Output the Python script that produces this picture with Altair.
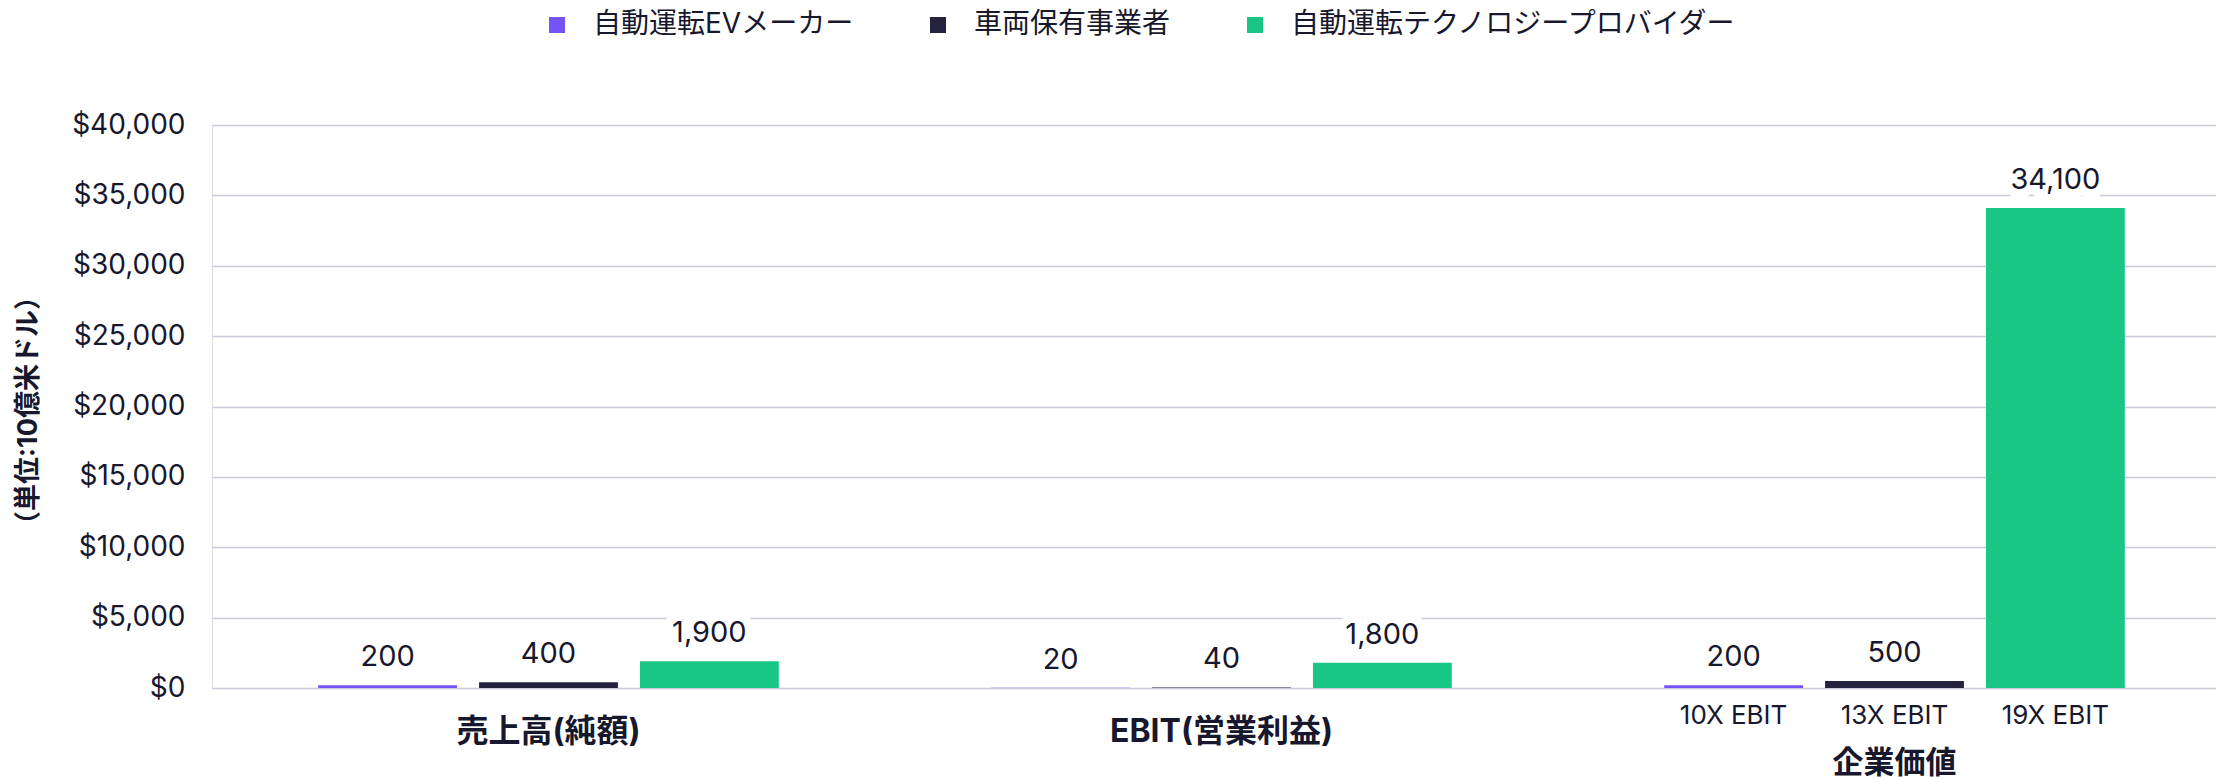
import altair as alt
import pandas as pd

# ---- data ----
categories = ["売上高(純額)", "EBIT(営業利益)", "企業価値"]
series = ["自動運転EVメーカー", "車両保有事業者", "自動運転テクノロジープロバイダー"]
revenue = [200, 400, 1900]
ebit = [20, 40, 1800]
enterprise_value = [200, 500, 34100]
multiples = ["10X EBIT", "13X EBIT", "19X EBIT"]
y_ticks = [0, 5000, 10000, 15000, 20000, 25000, 30000, 35000, 40000]
y_title = "（単位:10億米ドル）"

colors = ["#7454F7", "#23223F", "#19C784"]
TEXT = "#17172D"
FONT = "Inter, 'Noto Sans CJK JP', sans-serif"

rows = []
for cat, vals in zip(categories, [revenue, ebit, enterprise_value]):
    for i, (s, v) in enumerate(zip(series, vals)):
        rows.append({"指標": cat, "事業者": s, "値": v,
                     "倍率": multiples[i] if cat == "企業価値" else ""})
df = pd.DataFrame(rows)
cat_df = pd.DataFrame({"指標": categories})

W, H = 2004, 563

xenc = alt.X("指標:N", sort=categories,
             scale=alt.Scale(range=[0, 2019], paddingInner=0, paddingOuter=0),
             axis=None)
xoff = alt.XOffset("事業者:N", sort=series,
                   scale=alt.Scale(paddingInner=0.137, paddingOuter=0.66))
yscale = alt.Scale(domain=[0, 40000], nice=False)

base = alt.Chart(df).encode(x=xenc, xOffset=xoff)

bars = base.mark_bar().encode(
    y=alt.Y("値:Q", scale=yscale,
            axis=alt.Axis(values=y_ticks, format="$,.0f", labelFontSize=28,
                          labelFont=FONT, labelColor=TEXT, labelPadding=27,
                          domain=False, ticks=False, gridColor="#C8C8D8",
                          gridWidth=1.6, title=y_title, titleFont=FONT,
                          titleFontSize=27, titleFontWeight="bold",
                          titleColor=TEXT, titleX=-184, titleY=285,
                          titleAngle=270, titleAlign="center",
                          titleBaseline="middle")),
    color=alt.Color("事業者:N", sort=series,
                    scale=alt.Scale(domain=series, range=colors),
                    legend=alt.Legend(title=None, orient="none", legendX=331,
                                      legendY=-114, direction="horizontal",
                                      symbolType="square", symbolSize=256,
                                      symbolStrokeWidth=0, labelFontSize=28,
                                      labelFont=FONT, labelColor=TEXT,
                                      labelOffset=22, columnPadding=70,
                                      labelLimit=0, padding=0,
                                      labelBaseline="middle")),
)

halo = base.mark_text(baseline="alphabetic", dy=-19, fontSize=29, font=FONT,
                      fill="white", stroke="white", strokeWidth=18,
                      strokeJoin="round").encode(
    y=alt.Y("値:Q", scale=yscale), text=alt.Text("値:Q", format=","))

labels = base.mark_text(baseline="alphabetic", dy=-19, fontSize=29, font=FONT,
                        color=TEXT).encode(
    y=alt.Y("値:Q", scale=yscale), text=alt.Text("値:Q", format=","))

sub_labels = base.transform_filter("datum['倍率'] != ''").mark_text(
    baseline="middle", fontSize=26, font=FONT, color=TEXT).encode(
    y=alt.value(H + 28), text="倍率:N")

group_labels = alt.Chart(cat_df).transform_filter(
    "datum['指標'] != '企業価値'").mark_text(
    baseline="middle", fontSize=32, font=FONT, fontWeight="bold",
    color=TEXT).encode(x=xenc, y=alt.value(H + 44), text="指標:N")

group_title3 = alt.Chart(cat_df).transform_filter(
    "datum['指標'] == '企業価値'").mark_text(
    baseline="middle", fontSize=31, font=FONT, fontWeight="bold",
    color=TEXT).encode(x=xenc, y=alt.value(H + 76), text="指標:N")

chart = alt.layer(bars, halo, labels, sub_labels, group_labels, group_title3
                  ).properties(
    width=W, height=H,
    autosize=alt.AutoSizeParams(type="none"),
    padding={"left": 212, "top": 125, "right": 0, "bottom": 91},
).configure_view(stroke=None).configure(background="white")

chart.save("out.html", embed_options={"renderer": "svg", "actions": False})
